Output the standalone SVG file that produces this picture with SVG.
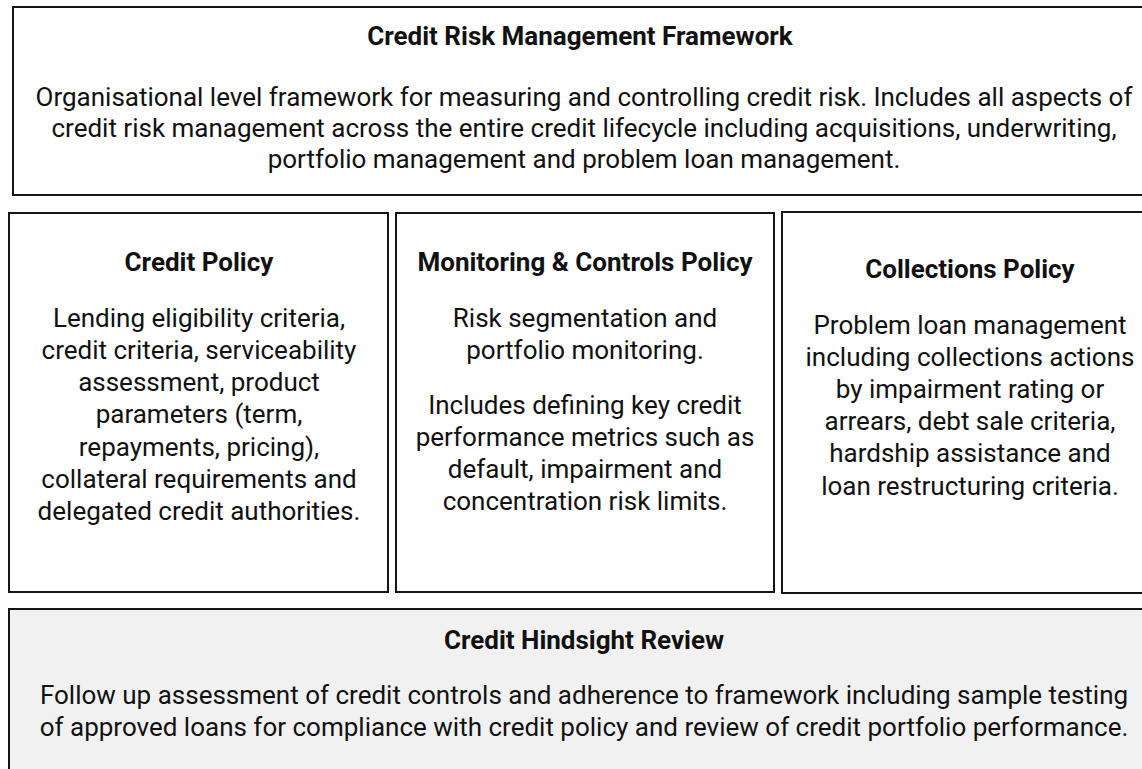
<svg xmlns="http://www.w3.org/2000/svg" width="1142" height="769" viewBox="0 0 1142 769">
  <style>
    .box { fill: #ffffff; stroke: #151515; stroke-width: 2; }
    .box.shaded { fill: #f1f1f1; }
    text { font-family: Roboto, "Liberation Sans", sans-serif; fill: #111111; text-anchor: middle; }
    .title { font-size: 26px; font-weight: 700; }
    .body { font-size: 26px; }
  </style>
  <rect width="1142" height="769" fill="#ffffff"/>

  <!-- framework banner -->
  <g id="framework">
    <rect class="box" x="13" y="7" width="1144" height="188"/>
    <text class="title" x="580" y="45">Credit Risk Management Framework</text>
    <text class="body" x="584" y="106">Organisational level framework for measuring and controlling credit risk. Includes all aspects of</text>
    <text class="body" x="584" y="137">credit risk management across the entire credit lifecycle including acquisitions, underwriting,</text>
    <text class="body" x="584" y="168">portfolio management and problem loan management.</text>
  </g>

  <!-- policy columns -->
  <g id="credit-policy">
    <rect class="box" x="9" y="213" width="379" height="379"/>
    <text class="title" x="199" y="271">Credit Policy</text>
    <text class="body" x="199" y="326.5">Lending eligibility criteria,</text>
    <text class="body" x="199" y="358.5">credit criteria, serviceability</text>
    <text class="body" x="199" y="390.5">assessment, product</text>
    <text class="body" x="199" y="422.5">parameters (term,</text>
    <text class="body" x="199" y="455.5">repayments, pricing),</text>
    <text class="body" x="199" y="487.5">collateral requirements and</text>
    <text class="body" x="199" y="519.5">delegated credit authorities.</text>
  </g>

  <g id="monitoring-policy">
    <rect class="box" x="396" y="213" width="378" height="379"/>
    <text class="title" x="585" y="271">Monitoring &amp; Controls Policy</text>
    <text class="body" x="585" y="326.5">Risk segmentation and</text>
    <text class="body" x="585" y="358.5">portfolio monitoring.</text>
    <text class="body" x="585" y="413.5">Includes defining key credit</text>
    <text class="body" x="585" y="445.5">performance metrics such as</text>
    <text class="body" x="585" y="477.5">default, impairment and</text>
    <text class="body" x="585" y="509.5">concentration risk limits.</text>
  </g>

  <g id="collections-policy">
    <rect class="box" x="782" y="212" width="378" height="381"/>
    <text class="title" x="970" y="278">Collections Policy</text>
    <text class="body" x="970" y="333.5">Problem loan management</text>
    <text class="body" x="970" y="365.5">including collections actions</text>
    <text class="body" x="970" y="397.5">by impairment rating or</text>
    <text class="body" x="970" y="429.5">arrears, debt sale criteria,</text>
    <text class="body" x="970" y="461.5">hardship assistance and</text>
    <text class="body" x="970" y="494.5">loan restructuring criteria.</text>
  </g>

  <!-- review band -->
  <g id="hindsight-review">
    <rect class="box shaded" x="9" y="609" width="1151" height="180"/>
    <text class="title" x="584" y="649">Credit Hindsight Review</text>
    <text class="body" x="584" y="704">Follow up assessment of credit controls and adherence to framework including sample testing</text>
    <text class="body" x="584" y="736">of approved loans for compliance with credit policy and review of credit portfolio performance.</text>
  </g>

  <g id="connectors"/>
</svg>
